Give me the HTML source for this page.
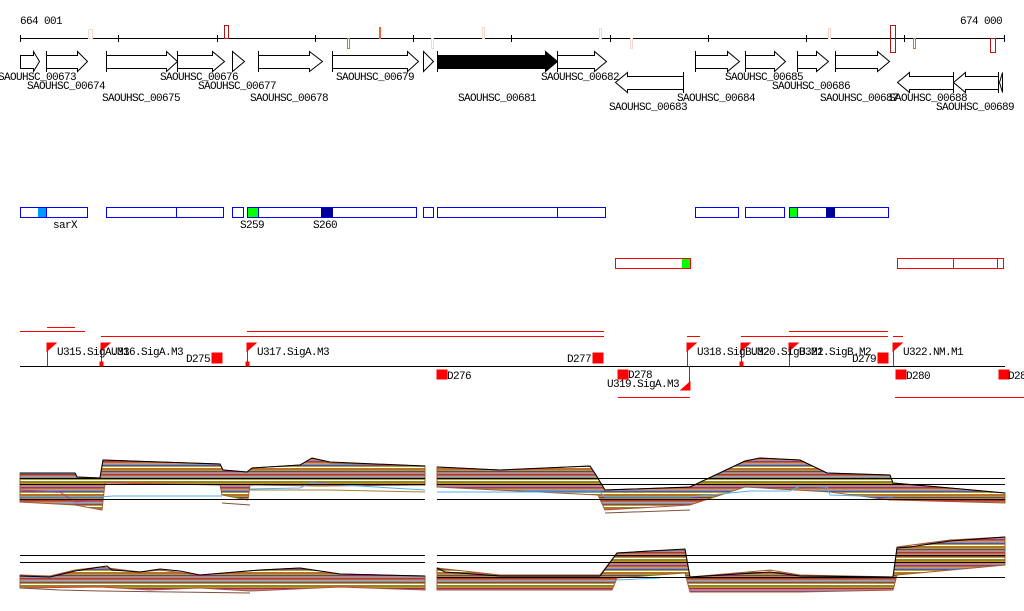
<!DOCTYPE html>
<html><head><meta charset="utf-8"><style>
html,body{margin:0;padding:0;background:#fff;}
svg{display:block;}
text{font-family:"Liberation Mono","DejaVu Sans Mono",monospace;font-size:11px;letter-spacing:-0.6px;fill:#000;}
</style></head><body>
<svg width="1024" height="611" viewBox="0 0 1024 611" xmlns="http://www.w3.org/2000/svg">
<defs>
<pattern id="st" patternUnits="userSpaceOnUse" width="40" height="13">
<rect width="40" height="13" fill="#c87a3a"/>
<rect y="0" width="40" height="1" fill="#8a8a20"/>
<rect y="1" width="40" height="1" fill="#e05a30"/>
<rect y="2" width="40" height="1" fill="#70c020"/>
<rect y="3" width="40" height="1" fill="#a02080"/>
<rect y="4" width="40" height="1" fill="#d08040"/>
<rect y="5" width="40" height="1" fill="#9090d0"/>
<rect y="6" width="40" height="1" fill="#c03030"/>
<rect y="7" width="40" height="1" fill="#a07050"/>
<rect y="8" width="40" height="1" fill="#e09060"/>
<rect y="9" width="40" height="1" fill="#50a0e0"/>
<rect y="10" width="40" height="1" fill="#904060"/>
<rect y="11" width="40" height="1" fill="#b0a030"/>
<rect y="12" width="40" height="1" fill="#ffffff"/>
</pattern>
</defs>

<!-- ruler -->
<text x="20" y="24">664 001</text>
<text x="960" y="24">674 000</text>
<line x1="20" y1="38.5" x2="1005" y2="38.5" stroke="#000"/>
<g stroke="#000">
<line x1="20.5" y1="35" x2="20.5" y2="42"/><line x1="118.5" y1="35" x2="118.5" y2="42"/>
<line x1="217.5" y1="35" x2="217.5" y2="42"/><line x1="315.5" y1="35" x2="315.5" y2="42"/>
<line x1="413.5" y1="35" x2="413.5" y2="42"/><line x1="511.5" y1="35" x2="511.5" y2="42"/>
<line x1="610.5" y1="35" x2="610.5" y2="42"/><line x1="708.5" y1="35" x2="708.5" y2="42"/>
<line x1="806.5" y1="35" x2="806.5" y2="42"/><line x1="904.5" y1="35" x2="904.5" y2="42"/>
<line x1="1004.5" y1="35" x2="1004.5" y2="42"/>
</g>
<g fill="none">
<rect x="88.5" y="29.5" width="4" height="9" stroke="#f8d8cc"/>
<rect x="224.5" y="25.5" width="4" height="13" stroke="#b01818"/>
<rect x="379.5" y="27.5" width="1" height="11" stroke="#f06040"/>
<rect x="347.5" y="38.5" width="2" height="10" stroke="#f06040"/>
<rect x="431.5" y="38.5" width="2" height="10" stroke="#f8d8cc"/>
<rect x="482.5" y="27.5" width="2" height="11" stroke="#f8d8cc"/>
<rect x="599.5" y="28.5" width="2" height="10" stroke="#f8d8cc"/>
<rect x="630.5" y="38.5" width="2" height="10" stroke="#f8d8cc"/>
<rect x="828.5" y="28.5" width="2" height="10" stroke="#f8d8cc"/>
<rect x="890.5" y="25.5" width="5" height="27" stroke="#b01818"/>
<rect x="913.5" y="38.5" width="2" height="10" stroke="#f06040"/>
<rect x="990.5" y="38.5" width="5" height="14" stroke="#b01818"/>
</g>

<!-- genes -->
<g fill="#fff" stroke="#000">
<polygon points="20.5,55.5 33.5,55.5 33.5,51.5 39.5,61.5 33.5,71.5 33.5,68.5 20.5,68.5"/>
<polygon points="46.5,55.5 77.5,55.5 77.5,51.5 87.5,61.5 77.5,71.5 77.5,68.5 46.5,68.5"/>
<line x1="46.5" y1="51" x2="46.5" y2="72"/>
<polygon points="106.5,55.5 166.5,55.5 166.5,51.5 177.5,61.5 166.5,71.5 166.5,68.5 106.5,68.5"/>
<line x1="106.5" y1="51" x2="106.5" y2="72"/>
<polygon points="177.5,55.5 212.5,55.5 212.5,51.5 224.5,61.5 212.5,71.5 212.5,68.5 177.5,68.5"/>
<line x1="177.5" y1="51" x2="177.5" y2="72"/>
<polygon points="232.5,51.5 244.5,61.5 232.5,71.5"/>
<polygon points="258.5,55.5 309.5,55.5 309.5,51.5 322.5,61.5 309.5,71.5 309.5,68.5 258.5,68.5"/>
<line x1="258.5" y1="51" x2="258.5" y2="72"/>
<polygon points="332.5,55.5 407.5,55.5 407.5,51.5 418.5,61.5 407.5,71.5 407.5,68.5 332.5,68.5"/>
<line x1="332.5" y1="51" x2="332.5" y2="72"/>
<polygon points="423.5,51.5 433.5,61.5 423.5,71.5"/>
<polygon fill="#000" points="437.5,55.5 545.5,55.5 545.5,51.5 557.5,61.5 545.5,71.5 545.5,68.5 437.5,68.5"/>
<line x1="437.5" y1="51" x2="437.5" y2="72"/>
<polygon points="557.5,55.5 594.5,55.5 594.5,51.5 606.5,61.5 594.5,71.5 594.5,68.5 557.5,68.5"/>
<line x1="557.5" y1="51" x2="557.5" y2="72"/>
<polygon points="683.5,76.5 627.5,76.5 627.5,72.5 615.5,82.5 627.5,92.5 627.5,89.5 683.5,89.5"/>
<line x1="683.5" y1="72" x2="683.5" y2="93"/>
<polygon points="695.5,55.5 727.5,55.5 727.5,51.5 739.5,61.5 727.5,71.5 727.5,68.5 695.5,68.5"/>
<line x1="695.5" y1="51" x2="695.5" y2="72"/>
<polygon points="745.5,55.5 774.5,55.5 774.5,51.5 785.5,61.5 774.5,71.5 774.5,68.5 745.5,68.5"/>
<line x1="745.5" y1="51" x2="745.5" y2="72"/>
<polygon points="797.5,55.5 816.5,55.5 816.5,51.5 828.5,61.5 816.5,71.5 816.5,68.5 797.5,68.5"/>
<line x1="797.5" y1="51" x2="797.5" y2="72"/>
<polygon points="835.5,55.5 877.5,55.5 877.5,51.5 889.5,61.5 877.5,71.5 877.5,68.5 835.5,68.5"/>
<line x1="835.5" y1="51" x2="835.5" y2="72"/>
<polygon points="953.5,76.5 909.5,76.5 909.5,72.5 897.5,82.5 909.5,92.5 909.5,89.5 953.5,89.5"/>
<line x1="953.5" y1="72" x2="953.5" y2="93"/>
<polygon points="998.5,76.5 965.5,76.5 965.5,72.5 953.5,82.5 965.5,92.5 965.5,89.5 998.5,89.5"/>
<line x1="998.5" y1="72" x2="998.5" y2="93"/>
<polygon points="1002.5,72.5 1002.5,92.5 999.5,82.5"/>
</g>
<text x="-2" y="80">SAOUHSC_00673</text>
<text x="27" y="89">SAOUHSC_00674</text>
<text x="102" y="101">SAOUHSC_00675</text>
<text x="160" y="80">SAOUHSC_00676</text>
<text x="198" y="89">SAOUHSC_00677</text>
<text x="250" y="101">SAOUHSC_00678</text>
<text x="336" y="80">SAOUHSC_00679</text>
<text x="458" y="101">SAOUHSC_00681</text>
<text x="541" y="80">SAOUHSC_00682</text>
<text x="609" y="110">SAOUHSC_00683</text>
<text x="677" y="101">SAOUHSC_00684</text>
<text x="725" y="80">SAOUHSC_00685</text>
<text x="772" y="89">SAOUHSC_00686</text>
<text x="820" y="101">SAOUHSC_00687</text>
<text x="889" y="101">SAOUHSC_00688</text>
<text x="936" y="110">SAOUHSC_00689</text>

<!-- blue boxes -->
<rect x="38" y="207" width="8" height="10" fill="#0099ff"/>
<rect x="247" y="207" width="11" height="10" fill="#00ff00"/>
<rect x="321" y="207" width="12" height="10" fill="#000099"/>
<rect x="789" y="207" width="8" height="10" fill="#00ff00"/>
<rect x="826" y="207" width="9" height="10" fill="#000099"/>
<g fill="none" stroke="#0000ff">
<rect x="20.5" y="207.5" width="67" height="10"/><line x1="46.5" y1="207" x2="46.5" y2="218"/>
<rect x="106.5" y="207.5" width="117" height="10"/><line x1="176.5" y1="207" x2="176.5" y2="218"/>
<rect x="232.5" y="207.5" width="11" height="10"/>
<rect x="247.5" y="207.5" width="169" height="10"/><line x1="258.5" y1="207" x2="258.5" y2="218"/>
<rect x="423.5" y="207.5" width="10" height="10"/>
<rect x="437.5" y="207.5" width="168" height="10"/><line x1="557.5" y1="207" x2="557.5" y2="218"/>
<rect x="695.5" y="207.5" width="43" height="10"/>
<rect x="745.5" y="207.5" width="39" height="10"/>
<rect x="789.5" y="207.5" width="99" height="10"/><line x1="797.5" y1="207" x2="797.5" y2="218"/>
</g>
<text x="53" y="228">sarX</text>
<text x="240" y="228">S259</text>
<text x="313" y="228">S260</text>

<!-- red boxes -->
<rect x="682" y="258" width="8" height="10" fill="#00ff00"/>
<g fill="none" stroke="#ff0000">
<rect x="615.5" y="258.5" width="75" height="10"/>
<rect x="897.5" y="258.5" width="106" height="10"/>
<line x1="953.5" y1="258" x2="953.5" y2="269"/><line x1="997.5" y1="258" x2="997.5" y2="269"/>
</g>

<!-- annotation track -->
<g stroke="#ff0000" stroke-width="1">
<line x1="47" y1="327.5" x2="75" y2="327.5"/>
<line x1="20" y1="331.5" x2="85" y2="331.5"/>
<line x1="247" y1="331.5" x2="604" y2="331.5"/>
<line x1="101" y1="336.5" x2="604" y2="336.5"/>
<line x1="687" y1="336.5" x2="700" y2="336.5"/>
<line x1="789" y1="331.5" x2="888" y2="331.5"/>
<line x1="741" y1="336.5" x2="888" y2="336.5"/>
<line x1="893" y1="336.5" x2="903" y2="336.5"/>
<line x1="618" y1="397.5" x2="690" y2="397.5"/>
<line x1="895" y1="397.5" x2="1024" y2="397.5"/>
</g>
<line x1="20" y1="366.5" x2="1005" y2="366.5" stroke="#000"/>
<g fill="#ff0000" stroke="#ff0000">
<line x1="47.5" y1="343" x2="47.5" y2="366"/><polygon points="47,343 56,343 47,351"/>
<line x1="101.5" y1="343" x2="101.5" y2="366"/><polygon points="101,343 110,343 101,351"/><rect x="100" y="362" width="3" height="4"/>
<line x1="247.5" y1="343" x2="247.5" y2="366"/><polygon points="247,343 256,343 247,351"/><rect x="246" y="362" width="3" height="4"/>
<line x1="687.5" y1="343" x2="687.5" y2="366"/><polygon points="687,343 696,343 687,351"/>
<line x1="741.5" y1="343" x2="741.5" y2="366"/><polygon points="741,343 750,343 741,351"/><rect x="740" y="362" width="3" height="4"/>
<line x1="789.5" y1="343" x2="789.5" y2="366"/><polygon points="789,343 798,343 789,351"/>
<line x1="893.5" y1="343" x2="893.5" y2="366"/><polygon points="893,343 902,343 893,351"/>
<line x1="689.5" y1="366" x2="689.5" y2="390"/><polygon points="690,390 681,390 690,382"/>
<rect x="212" y="353" width="10" height="10"/>
<rect x="593" y="353" width="10" height="10"/>
<rect x="878" y="353" width="10" height="10"/>
<rect x="437" y="370" width="10" height="9"/>
<rect x="618" y="370" width="10" height="9"/>
<rect x="896" y="370" width="10" height="9"/>
<rect x="999" y="370" width="10" height="9"/>
</g>
<text x="57" y="355">U315.SigA.M3</text>
<text x="111" y="355">U316.SigA.M3</text>
<text x="257" y="355">U317.SigA.M3</text>
<text x="186" y="362">D275</text>
<text x="447" y="379">D276</text>
<text x="567" y="362">D277</text>
<text x="628" y="378">D278</text>
<text x="607" y="387">U319.SigA.M3</text>
<text x="697" y="355">U318.SigB.M2</text>
<text x="751" y="355">U320.SigB.M2</text>
<text x="799" y="355">U321.SigB.M2</text>
<text x="852" y="362">D279</text>
<text x="903" y="355">U322.NM.M1</text>
<text x="906" y="379">D280</text>
<text x="1008" y="379">D281</text>

<!-- expression top -->
<g fill="url(#st)" stroke="#a05a30" stroke-width="1">
<polygon points="20,473 75,473 77,477 100,478 103,460 220,464 223,470 247,472 252,468 300,465 312,458 320,460 330,463 425,466 425,485 320,486 250,485 248,500 222,495 220,485 105,483 102,510 75,505 20,502"/>
<polygon points="437,467 500,470 590,466 596,475 605,490 690,487 745,461 760,458 800,460 827,473 890,475 893,483 950,488 1005,493 1005,503 893,500 890,500 830,492 745,487 690,505 605,510 598,495 437,487"/>
</g>
<g fill="none" stroke-width="1">
<polyline stroke="#000" points="20,473 75,473 77,477 100,478 103,460 220,464 223,470 247,472 252,468 300,465 312,458 330,462 425,466"/>
<polyline stroke="#000" points="437,467 500,470 590,466 596,475 605,490 690,487 745,461 760,458 800,460 827,473 890,475 893,483 950,488 1005,493"/>
<polyline stroke="#50b0f0" points="20,497 100,497 113,496 222,496"/>
<polyline stroke="#50b0f0" points="250,489 300,488 310,483 425,490"/>
<polyline stroke="#50b0f0" points="437,492 600,492 605,497 690,497 750,491 790,491 800,486 827,487 830,495 893,497"/>
<polyline stroke="#b04080" points="20,490 60,492 75,502 100,500"/>
<polyline stroke="#a08030" points="250,490 330,490 425,492"/>
<polyline stroke="#805040" points="222,503 250,505"/>
<polyline stroke="#805040" points="605,513 690,510"/>
</g>
<g stroke="#000">
<line x1="20" y1="478.5" x2="425" y2="478.5"/><line x1="437" y1="478.5" x2="1005" y2="478.5"/>
<line x1="20" y1="484.5" x2="425" y2="484.5"/><line x1="437" y1="484.5" x2="1005" y2="484.5"/>
<line x1="20" y1="499.5" x2="425" y2="499.5"/><line x1="437" y1="499.5" x2="1005" y2="499.5"/>
</g>

<!-- expression bottom -->
<g fill="url(#st)" stroke="#a05a30" stroke-width="1">
<polygon points="20,575 50,576 75,570 100,567 140,572 160,570 200,575 260,570 300,568 340,574 425,576 425,590 340,587 250,591 200,588 150,590 100,587 20,588"/>
<polygon points="437,568 500,575 600,575 617,553 650,551 685,550 690,577 770,570 800,575 893,577 897,547 950,540 1005,537 1005,565 897,575 893,590 800,592 690,592 685,573 617,578 612,590 437,590"/>
</g>
<g fill="none">
<polyline stroke="#000" points="20,576 50,577 75,571 100,567 107,566 112,570 140,572 160,569 180,571 200,575 260,570 300,568 340,574 425,576"/>
<polyline stroke="#000" points="437,568 445,572 500,576 600,576 617,553 650,551 685,549 690,577 770,572 800,576 893,577 897,548 910,547 950,541 1005,537"/>
<polyline stroke="#50b0f0" points="617,580 660,578"/>
<polyline stroke="#805040" points="20,588 60,590 100,591 250,593"/>
</g>
<g stroke="#000">
<line x1="20" y1="555.5" x2="425" y2="555.5"/><line x1="437" y1="555.5" x2="1005" y2="555.5"/>
<line x1="20" y1="562.5" x2="425" y2="562.5"/><line x1="437" y1="562.5" x2="1005" y2="562.5"/>
<line x1="437" y1="577.5" x2="1005" y2="577.5"/>
</g>
</svg>
</body></html>
